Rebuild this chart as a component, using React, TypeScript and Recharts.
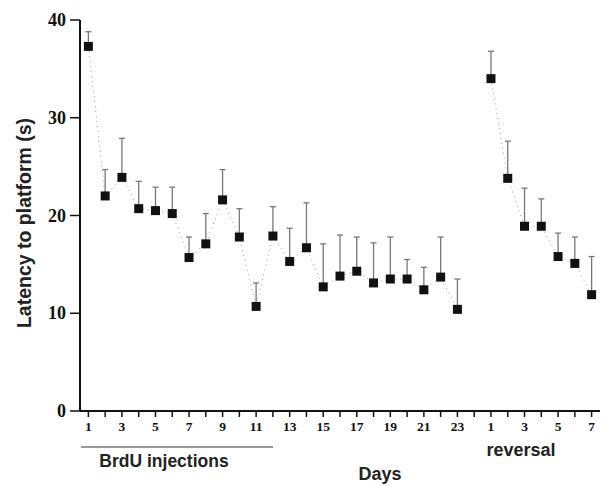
// Water maze latency across training days and reversal days, with SEM bars.

import {
  ComposedChart,
  ErrorBar,
  Line,
  XAxis,
  YAxis,
} from "recharts";

const trainingDays = [
  1, 2, 3, 4, 5, 6, 7, 8, 9, 10, 11, 12, 13, 14, 15, 16, 17, 18, 19, 20, 21,
  22, 23,
];
const trainingLatency = [
  37.3, 22.0, 23.9, 20.7, 20.5, 20.2, 15.7, 17.1, 21.6, 17.8, 10.7, 17.9, 15.3,
  16.7, 12.7, 13.8, 14.3, 13.1, 13.5, 13.5, 12.4, 13.7, 10.4,
];
const trainingSem = [
  1.5, 2.7, 4.0, 2.8, 2.4, 2.7, 2.1, 3.1, 3.1, 2.9, 2.4, 3.0, 3.4, 4.6, 4.4,
  4.2, 3.5, 4.1, 4.3, 2.0, 2.3, 4.1, 3.1,
];
const reversalDays = [1, 2, 3, 4, 5, 6, 7];
const reversalLatency = [34.0, 23.8, 18.9, 18.9, 15.8, 15.1, 11.9];
const reversalSem = [2.8, 3.8, 3.9, 2.8, 2.4, 2.7, 3.9];
const latencyTicks = [0, 10, 20, 30, 40];

// one continuous axis: training days, one empty slot, then reversal days
const gapSlot = trainingDays.length + 1;
const chartData = [
  ...trainingDays.map((d, i) => ({
    pos: d,
    label: String(d),
    latency: trainingLatency[i],
    sem: [0, trainingSem[i]],
  })),
  { pos: gapSlot, label: "", latency: null, sem: [0, 0] },
  ...reversalDays.map((d, i) => ({
    pos: gapSlot + d,
    label: String(d),
    latency: reversalLatency[i],
    sem: [0, reversalSem[i]],
  })),
];
const xTicks = chartData.map((d) => d.pos);
const labelFor = (pos: number) =>
  chartData.find((d) => d.pos === pos)?.label ?? "";

const serif = "'Liberation Serif', 'DejaVu Serif', serif";
const sans = "'Liberation Sans', Arial, sans-serif";

function XTick(props: any) {
  const { x, y, payload } = props;
  const pos = payload.value as number;
  if (pos % 2 === 0) return null;
  return (
    <text
      x={x}
      y={y}
      dy={12}
      textAnchor="middle"
      fontFamily={serif}
      fontWeight="bold"
      fontSize={13.5}
      fill="#111"
    >
      {labelFor(pos)}
    </text>
  );
}

function YTick(props: any) {
  const { x, y, payload } = props;
  return (
    <text
      x={x}
      y={y}
      dy={6}
      textAnchor="end"
      fontFamily={serif}
      fontWeight="bold"
      fontSize={18}
      fill="#111"
    >
      {payload.value}
    </text>
  );
}

function SquareDot(props: any) {
  const { cx, cy, index } = props;
  if (cy == null || cx == null) return <g key={`d${index}`} />;
  return (
    <rect
      key={`d${index}`}
      x={cx - 4.5}
      y={cy - 4.5}
      width={9}
      height={9}
      fill="#111"
    />
  );
}

export default function App() {
  return (
    <div style={{ position: "absolute", left: 0, top: 0, width: 601, height: 486, background: "#fff" }}>
      <ComposedChart
        width={601}
        height={486}
        data={chartData}
        margin={{ top: 20, right: 1, left: 0, bottom: 45 }}
      >
        <XAxis
          dataKey="pos"
          type="number"
          domain={[0.5, 31.5]}
          ticks={xTicks}
          interval={0}
          height={30}
          tickSize={6}
          tickMargin={2}
          tick={<XTick />}
          axisLine={{ stroke: "#111", strokeWidth: 2 }}
          tickLine={{ stroke: "#111", strokeWidth: 1.5 }}
          allowDataOverflow
        />
        <YAxis
          type="number"
          domain={[0, 40]}
          ticks={latencyTicks}
          width={80}
          tickSize={10}
          tickMargin={4}
          tick={<YTick />}
          axisLine={{ stroke: "#111", strokeWidth: 2 }}
          tickLine={{ stroke: "#111", strokeWidth: 1.5 }}
        />
        <Line
          dataKey="latency"
          type="linear"
          stroke="#999"
          strokeWidth={1}
          strokeDasharray="1 4"
          dot={<SquareDot />}
          activeDot={false}
          connectNulls={false}
          isAnimationActive={false}
        >
          <ErrorBar
            dataKey="sem"
            direction="y"
            width={3}
            stroke="#777"
            strokeWidth={1.3}
            isAnimationActive={false}
          />
        </Line>
      </ComposedChart>
      <svg
        width={601}
        height={486}
        style={{ position: "absolute", left: 0, top: 0, pointerEvents: "none" }}
      >
        <text
          transform="translate(31 223) rotate(-90)"
          textAnchor="middle"
          fontFamily={sans}
          fontWeight="bold"
          fontSize={19.5}
          fill="#222"
        >
          Latency to platform (s)
        </text>
        <line x1={81} y1={447} x2={273} y2={447} stroke="#333" strokeWidth={1.2} />
        <text x={164} y={467} textAnchor="middle" fontFamily={sans} fontWeight="bold" fontSize={17.5} fill="#222">
          BrdU injections
        </text>
        <text x={521} y={456} textAnchor="middle" fontFamily={sans} fontWeight="bold" fontSize={18} fill="#222">
          reversal
        </text>
        <text x={380} y={480} textAnchor="middle" fontFamily={sans} fontWeight="bold" fontSize={18} fill="#222">
          Days
        </text>
      </svg>
    </div>
  );
}
